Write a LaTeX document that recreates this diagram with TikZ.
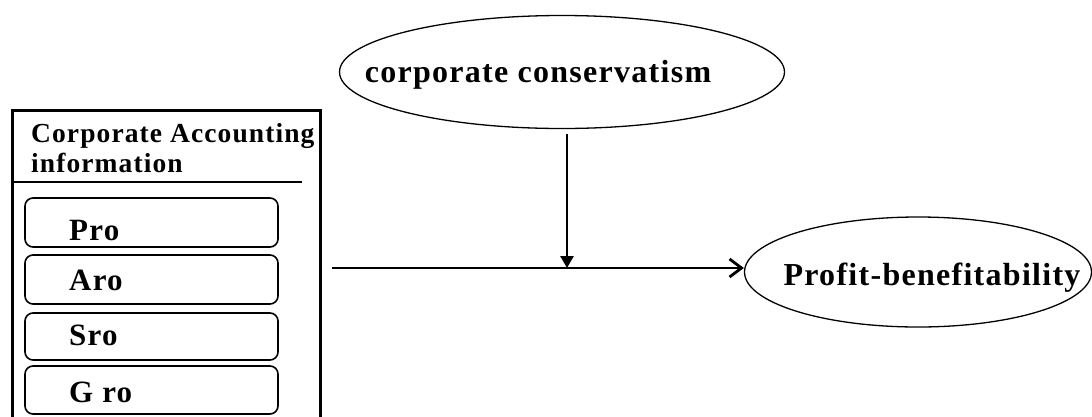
\documentclass[tikz,border=0pt]{standalone}
\usepackage{fontspec}
\setmainfont{Liberation Serif}
\newfontfamily\wide{Liberation Serif}[LetterSpace=4]
\tikzstyle{every node}+=[inner sep=0pt,font=\wide\bfseries]
\tikzstyle{itembox}=[draw,rounded corners=8pt,line width=1.6pt,minimum width=253pt]
\tikzstyle{oval}=[draw,ellipse,line width=1.3pt]
\tikzstyle{link}=[line width=2.8pt]
\usetikzlibrary{shapes.geometric,arrows.meta,positioning,calc}
\newcommand{\drawitems}[1]{
	\foreach \n/\t/\top/\bot/\base in {#1}{
		\node[itembox,minimum height=\bot pt-\top pt] (\n) at (151.5,{(\top+\bot)/2}) {};
		\node[anchor=base west,font=\wide\bfseries\fontsize{31}{31}\selectfont] at (69,\base) {\t};
	}
}

\begin{document}
\begin{tikzpicture}[x=1pt,y=-1pt]
\useasboundingbox (0,0) rectangle (1092,416);
\node[draw,line width=3pt,minimum width=308pt,minimum height=310pt] (info) at (166,265) {};
\node[anchor=base west,align=left,font=\wide\bfseries\fontsize{27.5}{30}\selectfont] (head) at (31,172) {Corporate Accounting\\information};
\draw[line width=2.5pt] (info.west |- 0,182) -- (302,182);
\drawitems{pro/Pro/198/247/240,aro/Aro/255/304/290,sro/Sro/313/360/345,gro/G ro/366/414/402}

\node[oval,minimum width=445pt,minimum height=113pt] (cons) at (562,72) {};
\node[anchor=base,font=\wide\bfseries\fontsize{32}{32}\selectfont] at ($(cons.center)+(-24,10)$) {corporate conservatism};
\node[oval,minimum width=347pt,minimum height=110pt] (prof) at (918,272) {};
\node[anchor=base,font=\wide\bfseries\fontsize{32}{32}\selectfont] at ($(prof.center)+(14,13)$) {Profit-benefitability};

\coordinate (meet) at (567,268);
\draw[link,shorten <=10pt,-{Straight Barb[length=12pt,width=18pt]}] (info.east |- meet) -- (meet -| prof.west);
\draw[link,shorten <=5pt,-{Triangle[length=12pt,width=13pt]}] (meet |- cons.south) -- (meet);
\end{tikzpicture}
\end{document}
